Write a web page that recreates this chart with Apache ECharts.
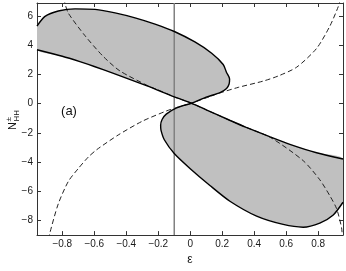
<!DOCTYPE html>
<html><head><meta charset="utf-8">
<script src="https://cdn.jsdelivr.net/npm/echarts@6/dist/echarts.min.js"></script>
<style>html,body{margin:0;padding:0;background:#fff}#c{width:346px;height:271px}</style>
</head><body><div id="c"></div>
<script>
// ---- data ----
const xTicks = [-0.8, -0.6, -0.4, -0.2, 0, 0.2, 0.4, 0.6, 0.8];
const yTicks = [-8, -6, -4, -2, 0, 2, 4, 6];
const vLineX = -0.1;

// the solid S-shaped line through the crossing
const sLine = [[-0.958,3.7],[-0.8,3.25],[-0.69,2.88],[-0.6,2.55],[-0.48,2.08],[-0.27,1.22],[-0.1,0.47],[0.009,0.03],
  [0.1,-0.42],[0.25,-1.15],[0.35,-1.62],[0.5,-2.27],[0.623,-2.78],[0.79,-3.36],[0.955,-3.79]];
// upper loop arc, from crossing via the right tip to the left edge
const upperArc = [[0.009,0.03],[0.1,0.45],[0.186,0.76],[0.227,1.04],[0.243,1.35],[0.246,1.7],[0.227,2.14],
  [0.206,2.69],[0.134,3.46],[0.029,4.23],[-0.096,4.93],[-0.22,5.45],[-0.345,5.88],[-0.47,6.22],
  [-0.595,6.46],[-0.72,6.5],[-0.825,6.35],[-0.908,5.98],[-0.958,5.32]];
// lower loop arc, from crossing via the left tip to the right edge
const lowerArc = [[0.009,0.03],[-0.085,-0.28],[-0.15,-0.71],[-0.176,-1.08],[-0.185,-1.48],[-0.183,-1.81],
  [-0.162,-2.47],[-0.1,-3.41],[0,-4.45],[0.123,-5.6],[0.248,-6.68],[0.415,-7.7],[0.581,-8.27],
  [0.706,-8.46],[0.81,-8.18],[0.894,-7.62],[0.955,-6.75]];
// dashed curves
const dash1 = [[-0.885,-9.3],[-0.877,-8.83],[-0.825,-6.86],[-0.762,-5.32],[-0.7,-4.44],[-0.637,-3.65],
  [-0.585,-3.15],[-0.45,-2.14],[-0.3,-1.2],[-0.15,-0.5],[-0.085,-0.26],[0.009,0.05],[0.1,0.4],
  [0.186,0.74],[0.3,1.12],[0.456,1.55],[0.55,1.9],[0.665,2.5],[0.79,3.79],[0.873,5.32],[0.925,6.64],[0.94,7.2]];
const dash2 = [[-0.79,7.2],[-0.783,6.86],[-0.762,6.2],[-0.658,4.66],[-0.544,3.24],[-0.44,2.25],[-0.25,1.15],
  [-0.21,0.99],[-0.1,0.47],[0.009,0.03],[0.1,-0.42],[0.25,-1.15],[0.35,-1.62],[0.5,-2.3],
  [0.706,-3.9],[0.81,-5.21],[0.873,-6.31],[0.915,-7.19],[0.946,-8.5],[0.952,-9.3]];

// ---- build closed loops for the shading ----
const upperLoop = sLine.filter(p => p[0] < 0.009).concat(upperArc);
const lowerLoop = lowerArc.concat(sLine.filter(p => p[0] > 0.009).reverse());

const FONT = '"Liberation Sans", Arial, Helvetica, sans-serif';
const AX = '#333';
const fmt = v => (v < 0 ? '\u2212' : '') + Math.abs(v);
const fmtX = v => v === 0 ? '0' : (v < 0 ? '\u2212' : '') + Math.abs(v).toFixed(1);

function fillSeries(points) {
  return {
    type: 'custom', coordinateSystem: 'cartesian2d', clip: true, silent: true, z: 1,
    data: [[0, 0]],
    renderItem: function (params, api) {
      return { type: 'polygon', shape: { points: points.map(p => api.coord(p)), smooth: 0.25 },
               style: { fill: '#c0c0c0', stroke: null } };
    }
  };
}
function lineSeries(data, opts) {
  return Object.assign({
    type: 'line', data: data, showSymbol: false, symbol: 'none', silent: true, clip: true,
    smooth: 0.25, animation: false
  }, opts);
}
const baseX = { type: 'value', min: -0.958, max: 0.955, splitLine: { show: false },
  axisLine: { show: true, onZero: false, lineStyle: { color: AX, width: 1 } } };
const baseY = { type: 'value', min: -9, max: 6.9, splitLine: { show: false },
  axisLine: { show: true, onZero: false, lineStyle: { color: AX, width: 1 } } };

const chart = echarts.init(document.getElementById('c'), null, { renderer: 'canvas' });
chart.setOption({
  animation: false,
  backgroundColor: '#fff',
  grid: { left: 37, right: 3, top: 3, bottom: 27 },
  xAxis: [
    Object.assign({}, baseX, { position: 'bottom',
      name: '\u03b5', nameLocation: 'middle', nameGap: 13,
      nameTextStyle: { fontFamily: FONT, fontSize: 12, color: '#1a1a1a' },
      axisTick: { show: true, inside: true, length: 4, customValues: xTicks, lineStyle: { color: AX } },
      axisLabel: { show: true, customValues: xTicks, formatter: fmtX, margin: 4,
        fontFamily: FONT, fontSize: 10, color: '#1a1a1a' } }),
    Object.assign({}, baseX, { position: 'top',
      axisTick: { show: true, inside: true, length: 4, customValues: xTicks, lineStyle: { color: AX } },
      axisLabel: { show: false } })
  ],
  yAxis: [
    Object.assign({}, baseY, { position: 'left',
      axisTick: { show: true, inside: true, length: 4, customValues: yTicks, lineStyle: { color: AX } },
      axisLabel: { show: true, customValues: yTicks, formatter: fmt, margin: 4,
        fontFamily: FONT, fontSize: 10, color: '#1a1a1a' } }),
    Object.assign({}, baseY, { position: 'right',
      axisTick: { show: true, inside: true, length: 4, customValues: yTicks, lineStyle: { color: AX } },
      axisLabel: { show: false } })
  ],
  graphic: [
    { type: 'text', x: 69, y: 111, z: 10,
      style: { text: '(a)', font: '13px ' + FONT, fill: '#111', align: 'center', verticalAlign: 'middle',
               textAlign: 'center', textVerticalAlign: 'middle' } },
    { type: 'group', x: 13, y: 121, rotation: Math.PI / 2, z: 10, children: [
      { type: 'text', x: -9, y: 0, style: { text: 'N', font: '11px ' + FONT, fill: '#111',
          align: 'left', verticalAlign: 'middle', textAlign: 'left', textVerticalAlign: 'middle' } },
      { type: 'text', x: -0.5, y: -4, style: { text: '\u00b1', font: '8px ' + FONT, fill: '#111',
          align: 'left', verticalAlign: 'middle', textAlign: 'left', textVerticalAlign: 'middle' } },
      { type: 'text', x: -0.5, y: 4, style: { text: 'HH', font: '8px ' + FONT, fill: '#111',
          align: 'left', verticalAlign: 'middle', textAlign: 'left', textVerticalAlign: 'middle' } }
    ] }
  ],
  series: [
    fillSeries(upperLoop),
    fillSeries(lowerLoop),
    lineSeries(dash1, { z: 2, lineStyle: { color: '#222', width: 1, type: [5, 3] } }),
    lineSeries(dash2, { z: 2, lineStyle: { color: '#222', width: 1, type: [5, 3] } }),
    lineSeries([[vLineX, -9], [vLineX, 6.9]], { z: 3, smooth: false, lineStyle: { color: '#808080', width: 1.5 } }),
    lineSeries(sLine, { z: 4, lineStyle: { color: '#000', width: 1.4 } }),
    lineSeries(upperArc, { z: 4, lineStyle: { color: '#000', width: 1.4 } }),
    lineSeries(lowerArc, { z: 4, lineStyle: { color: '#000', width: 1.4 } })
  ]
});
</script></body></html>
